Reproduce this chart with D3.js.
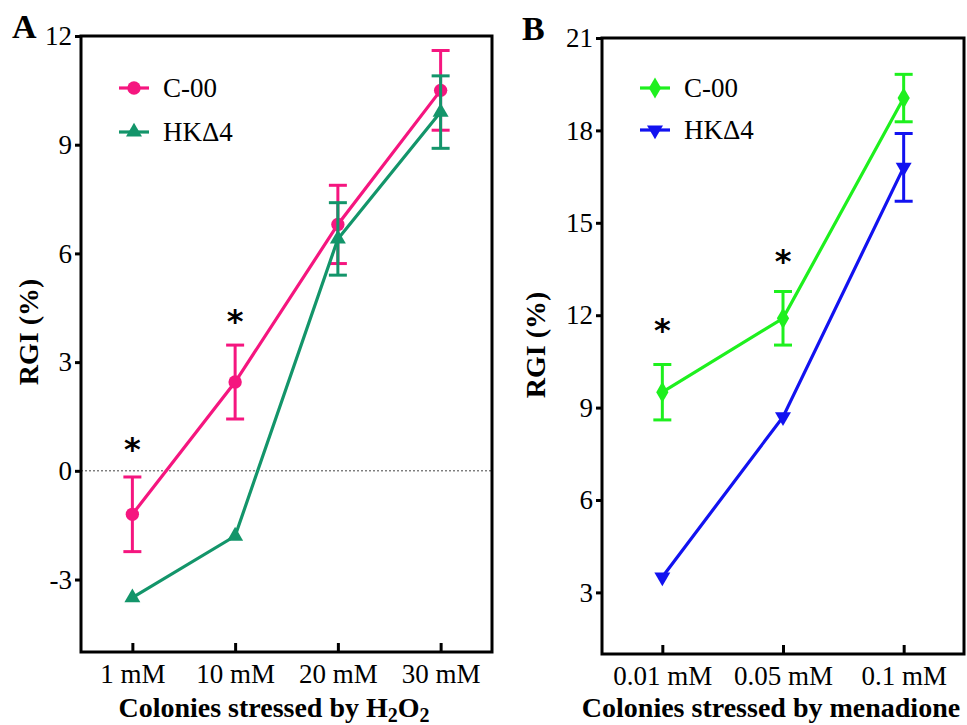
<!DOCTYPE html>
<html>
<head>
<meta charset="utf-8">
<script src="https://cdn.jsdelivr.net/npm/d3@7"></script>
<style>
  body { margin: 0; background: #fff; }
  svg { display: block; font-family: "Liberation Serif", "Times New Roman", serif; }
  .tick text { font-size: 27px; fill: #000; font-family: "Liberation Serif", "Times New Roman", serif; }
  .tick line { stroke: #000; stroke-width: 3; }
</style>
</head>
<body>
<div id="chart"></div>
<script>
// panel A: H2O2
var h2o2Doses = ['1 mM', '10 mM', '20 mM', '30 mM'];
var h2o2Ticks = [-3, 0, 3, 6, 9, 12];
var h2o2Control = [-1.2, 2.45, 6.8, 10.5];
var h2o2ControlErr = [1.03, 1.02, 1.08, 1.1];
var h2o2Mutant = [-3.5, -1.8, 6.4, 9.9];
var h2o2MutantErr = [0, 0, 1.0, 1.0];
var h2o2Stars = [{dose: '1 mM', y: 0.77}, {dose: '10 mM', y: 4.29}];

// panel B: menadione
var menaDoses = ['0.01 mM', '0.05 mM', '0.1 mM'];
var menaTicks = [3, 6, 9, 12, 15, 18, 21];
var menaControl = [9.5, 11.9, 19.05];
var menaControlErr = [0.9, 0.87, 0.77];
var menaMutant = [3.5, 8.7, 16.8];
var menaMutantErr = [0, 0, 1.1];
var menaStars = [{dose: '0.01 mM', y: 11.73}, {dose: '0.05 mM', y: 13.94}];

var svg = d3.select('#chart').append('svg')
  .attr('width', 967)
  .attr('height', 725);

function drawPanel(p) {
  var x = d3.scalePoint().domain(p.doses).range([p.left, p.right]).padding(0.5);
  var y = d3.scaleLinear().domain(p.yDomain).range([p.bottom, p.top]);

  var g = svg.append('g');

  // zero reference line
  if (p.zeroLine) {
    g.append('line')
      .attr('x1', p.left).attr('x2', p.right)
      .attr('y1', y(0)).attr('y2', y(0))
      .attr('stroke', '#444')
      .attr('stroke-width', 1)
      .attr('stroke-dasharray', '2,2');
  }

  var yAxis = g.append('g')
    .attr('transform', 'translate(' + p.left + ',0)')
    .call(d3.axisLeft(y).tickValues(p.ticks).tickSize(6).tickPadding(3)
      .tickFormat(function(d) { return String(d); }))
    .attr('font-family', null);
  yAxis.select('.domain').remove();

  var xAxis = g.append('g')
    .attr('transform', 'translate(0,' + p.bottom + ')')
    .call(d3.axisBottom(x).tickSize(-9).tickPadding(12))
    .attr('font-family', null);
  xAxis.select('.domain').remove();

  // box frame
  g.append('rect')
    .attr('x', p.left).attr('y', p.top)
    .attr('width', p.right - p.left).attr('height', p.bottom - p.top)
    .attr('fill', 'none')
    .attr('stroke', '#000')
    .attr('stroke-width', 3);

  var line = d3.line()
    .x(function(d) { return x(d.dose); })
    .y(function(d) { return y(d.v); });

  p.series.forEach(function(s) {
    var pts = p.doses.map(function(dose, i) {
      return {dose: dose, v: s.values[i], e: s.errors[i]};
    });

    var bars = g.append('g').selectAll('g')
      .data(pts.filter(function(d) { return d.e > 0; }))
      .enter().append('g')
      .attr('stroke', s.color)
      .attr('stroke-width', 3);
    bars.append('line')
      .attr('x1', function(d) { return x(d.dose); })
      .attr('x2', function(d) { return x(d.dose); })
      .attr('y1', function(d) { return y(d.v - d.e); })
      .attr('y2', function(d) { return y(d.v + d.e); });
    [-1, 1].forEach(function(k) {
      bars.append('line')
        .attr('x1', function(d) { return x(d.dose) - 9; })
        .attr('x2', function(d) { return x(d.dose) + 9; })
        .attr('y1', function(d) { return y(d.v + k * d.e); })
        .attr('y2', function(d) { return y(d.v + k * d.e); });
    });

    g.append('path')
      .datum(pts)
      .attr('fill', 'none')
      .attr('stroke', s.color)
      .attr('stroke-width', 3.2)
      .attr('d', line);

    g.append('g').selectAll('path')
      .data(pts)
      .enter().append('path')
      .attr('d', d3.symbol().type(s.symbol).size(s.size))
      .attr('fill', s.color)
      .attr('transform', function(d) {
        return 'translate(' + x(d.dose) + ',' + y(d.v) + ')' + (s.flip ? ' rotate(180)' : '');
      });
  });

  // legend
  p.series.forEach(function(s, i) {
    var ly = p.legendY + i * p.legendGap;
    g.append('line')
      .attr('x1', p.legendX).attr('x2', p.legendX + 30)
      .attr('y1', ly).attr('y2', ly)
      .attr('stroke', s.color)
      .attr('stroke-width', 3.2);
    g.append('path')
      .attr('d', d3.symbol().type(s.symbol).size(s.size))
      .attr('fill', s.color)
      .attr('transform', 'translate(' + (p.legendX + 15) + ',' + ly + ')' + (s.flip ? ' rotate(180)' : ''));
    g.append('text')
      .attr('x', p.legendX + 44)
      .attr('y', ly)
      .attr('dy', '0.35em')
      .attr('font-size', 27)
      .text(s.name);
  });

  // significance marks
  g.selectAll('.star')
    .data(p.stars)
    .enter().append('text')
    .attr('class', 'star')
    .attr('x', function(d) { return x(d.dose); })
    .attr('y', function(d) { return y(d.y) + 17; })
    .attr('text-anchor', 'middle')
    .attr('font-family', 'DejaVu Sans, sans-serif')
    .attr('font-weight', 'bold')
    .attr('font-size', 32)
    .text('*');

  // y title
  g.append('text')
    .attr('transform', 'translate(' + p.yTitleX + ',' + p.yTitleY + ') rotate(-90)')
    .attr('text-anchor', 'middle')
    .attr('font-weight', 'bold')
    .attr('font-size', 28)
    .text('RGI (%)');

  // x title
  var xt = g.append('text')
    .attr('x', p.xTitleX)
    .attr('y', 717)
    .attr('text-anchor', 'middle')
    .attr('font-weight', 'bold')
    .attr('font-size', 28);
  p.xTitle.forEach(function(part) {
    xt.append('tspan')
      .attr('font-size', part.sub ? 20 : 28)
      .attr('dy', part.sub ? 5 : (part.after ? -5 : 0))
      .text(part.t);
  });

  // panel letter
  g.append('text')
    .attr('x', p.letterX)
    .attr('y', p.letterY)
    .attr('font-weight', 'bold')
    .attr('font-size', 34)
    .text(p.letter);
}

drawPanel({
  letter: 'A', letterX: 12, letterY: 38,
  left: 81, right: 492, top: 36, bottom: 652,
  doses: h2o2Doses, yDomain: [-5, 12], ticks: h2o2Ticks,
  zeroLine: true,
  series: [
    {name: 'C-00', values: h2o2Control, errors: h2o2ControlErr, color: '#f5167f', symbol: d3.symbolCircle, size: 140},
    {name: 'HKΔ4', values: h2o2Mutant, errors: h2o2MutantErr, color: '#13956a', symbol: d3.symbolTriangle, size: 110}
  ],
  legendX: 119, legendY: 88, legendGap: 44,
  stars: h2o2Stars,
  yTitleX: 38, yTitleY: 332,
  xTitleX: 274,
  xTitle: [{t: 'Colonies stressed by H'}, {t: '2', sub: true}, {t: 'O', after: true}, {t: '2', sub: true}]
});

drawPanel({
  letter: 'B', letterX: 522, letterY: 40,
  left: 602, right: 964, top: 38, bottom: 654,
  doses: menaDoses, yDomain: [1, 21], ticks: menaTicks,
  zeroLine: false,
  series: [
    {name: 'C-00', values: menaControl, errors: menaControlErr, color: '#1ef01e', symbol: d3.symbolDiamond, size: 130},
    {name: 'HKΔ4', values: menaMutant, errors: menaMutantErr, color: '#1212f0', symbol: d3.symbolTriangle, size: 110, flip: true}
  ],
  legendX: 640, legendY: 88, legendGap: 42,
  stars: menaStars,
  yTitleX: 545, yTitleY: 345,
  xTitleX: 771,
  xTitle: [{t: 'Colonies stressed by menadione'}]
});
</script>
</body>
</html>
